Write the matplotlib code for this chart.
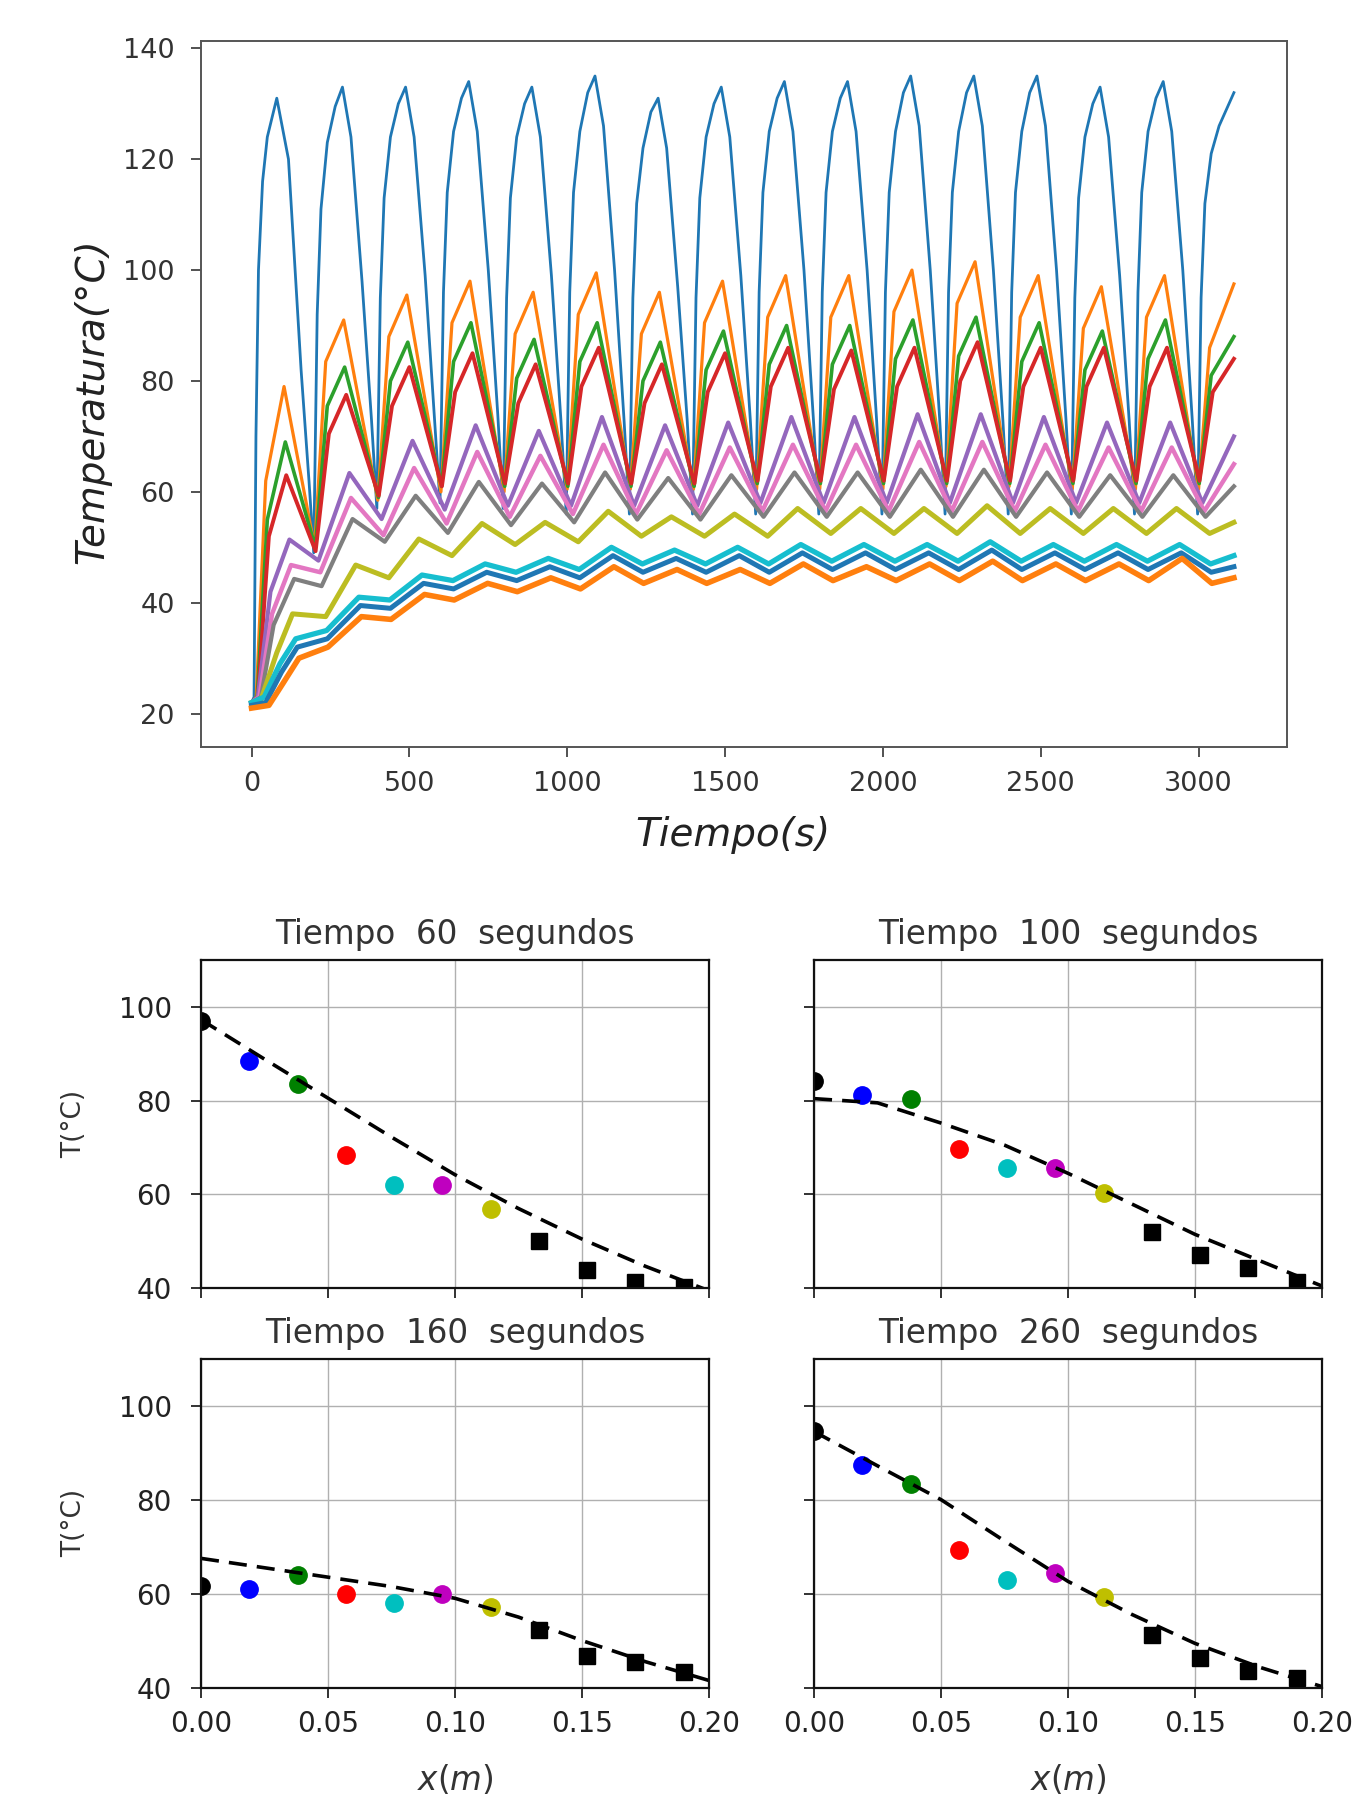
import matplotlib
matplotlib.use("Agg")
import matplotlib.pyplot as plt
import matplotlib.ticker as mticker

# ---------------- Top chart data ----------------
# cycle reference times (s); each series has its own phase lag
cycle_t = [200, 400, 600, 800, 1000, 1200, 1400, 1600, 1800, 2000, 2200, 2400, 2600, 2800, 3000]

# Series 1: blue (heater side)
blue_start_t = [0, 8, 14, 22, 35, 50, 80, 117, 157, 182]
blue_start_T = [22, 23, 70, 100, 116, 124, 131, 120, 82, 62]
blue_lags = [-3, 8, 20, 40, 65, 88, 115, 150, 180]
blue_trough = [49, 57, 58, 57, 56, 56, 56, 56, 56, 56, 56, 56, 56, 56, 56]
blue_r8 = [92, 95, 96, 95, 96, 95, 95, 96, 96, 96, 96, 96, 95, 96, 95]
blue_r20 = [111, 113, 114, 113, 114, 112, 113, 114, 114, 114, 114, 114, 113, 114, 112]
blue_r40 = [123, 124, 125, 124, 125, 122, 124, 125, 125, 125, 125, 125, 124, 125, 121]
blue_r65 = [129.5, 130, 131, 130, 132, 128.5, 130, 131, 131, 132, 132, 132, 130, 131, 126]
blue_peak = [133, 133, 134, 133, 135, 131, 133, 134, 134, 135, 135, 135, 133, 134]
blue_f115 = [124, 124, 125, 124, 126, 122, 124, 125, 125, 126, 126, 126, 124, 125]
blue_f150 = [98, 99, 100, 99, 100, 97, 99, 100, 100, 100, 100, 100, 99, 100]
blue_f180 = [73, 73, 74, 73, 73, 73, 73, 73, 73, 73, 73, 73, 73, 73]
blue_end_t = [3112]
blue_end_T = [132]

# Series 2: orange
orange_start_t = [0, 15, 45, 103]
orange_start_T = [22, 23, 62, 79]
orange_lags = [0, 35, 92]
orange_trough = [50, 58.5, 60, 60, 60.5, 60.5, 60.5, 60.5, 60.5, 60.5, 61, 61, 60.5, 60.5, 60.5]
orange_mid = [83.5, 88, 90.5, 88.5, 92, 88.5, 90.5, 91.5, 91.5, 92.5, 94, 91.5, 89.5, 91.5, 86]
orange_peak = [91, 95.5, 98, 96, 99.5, 96, 98, 99, 99, 100, 101.5, 99, 97, 99]
orange_end_t = [3112]
orange_end_T = [97.5]

# Series 3: green
green_start_t = [0, 18, 50, 107]
green_start_T = [22, 23, 55, 69]
green_lags = [2, 40, 95]
green_trough = [50, 59, 61, 61, 61, 61, 61, 61.5, 61.5, 61.5, 61.5, 61.5, 61.5, 61.5, 61.5]
green_mid = [75.5, 80, 83.5, 80.5, 83.5, 80, 82, 83, 83, 84, 84.5, 83.5, 82, 84, 81]
green_peak = [82.5, 87, 90.5, 87.5, 90.5, 87, 89, 90, 90, 91, 91.5, 90.5, 89, 91]
green_end_t = [3112]
green_end_T = [88]

# Series 4: red
red_start_t = [0, 20, 55, 110]
red_start_T = [22, 23, 52, 63]
red_lags = [3, 45, 100]
red_trough = [49.3, 59.3, 61, 61.5, 61.5, 61.5, 61.5, 62, 62, 62, 62, 62, 62, 62, 62]
red_mid = [70.5, 75.5, 78, 76, 79, 76, 78, 79, 78.5, 79, 80, 79, 79, 79, 78]
red_peak = [77.5, 82.5, 85, 83, 86, 83, 85, 86, 85.5, 86, 87, 86, 86, 86]
red_end_t = [3112]
red_end_T = [84]

# Series 5: purple
purple_start_t = [0, 20, 60, 120]
purple_start_T = [22, 23, 42, 51.4]
purple_lags = [12, 110]
purple_trough = [47.6, 55.1, 56.8, 57.5, 57.5, 57.5, 57.5, 58, 58, 58, 58, 58, 58, 58, 58]
purple_peak = [63.4, 69.2, 72, 71, 73.5, 72, 72.5, 73.5, 73.5, 74, 74, 73.5, 72.5, 72.5]
purple_end_t = [3112]
purple_end_T = [70]

# Series 6: pink
pink_start_t = [0, 25, 65, 125]
pink_start_T = [22, 23, 38, 46.8]
pink_lags = [18, 115]
pink_trough = [45.5, 52.2, 54.3, 55.5, 56, 56, 56, 56.5, 56.5, 56.5, 56.5, 56.5, 56.5, 56.5, 56.5]
pink_peak = [58.9, 64.3, 67.2, 66.5, 68.5, 67.5, 68, 68.5, 68.5, 69, 69, 68.5, 68, 68]
pink_end_t = [3112]
pink_end_T = [65]

# Series 7: gray
gray_start_t = [0, 30, 70, 135]
gray_start_T = [22, 23, 36, 44.3]
gray_lags = [22, 120]
gray_trough = [43, 51, 52.6, 54, 54.5, 55, 55, 55.5, 55.5, 55.5, 55.5, 55.5, 55.5, 55.5, 55.5]
gray_peak = [55.1, 59.3, 61.8, 61.5, 63.5, 62.5, 63, 63.5, 63.5, 64, 64, 63.5, 63, 63]
gray_end_t = [3112]
gray_end_T = [61]

# Series 8: olive
olive_start_t = [0, 30, 80, 130]
olive_start_T = [22, 22.5, 31, 38]
olive_lags = [35, 130]
olive_trough = [37.5, 44.5, 48.5, 50.5, 51, 52, 52, 52, 52.5, 52.5, 52.5, 52.5, 52.5, 52.5, 52.5]
olive_peak = [46.8, 51.5, 54.3, 54.5, 56.5, 55.5, 56, 57, 57, 57, 57.5, 57, 57, 57]
olive_end_t = [3112]
olive_end_T = [54.5]

# Series 9: cyan
cyan_start_t = [0, 40, 90, 140]
cyan_start_T = [22, 23, 29, 33.5]
cyan_lags = [38, 140]
cyan_trough = [35, 40.5, 44, 45.5, 46, 47, 47, 47, 47.5, 47.5, 47.5, 47.5, 47.5, 47.5, 47]
cyan_peak = [41, 45, 47, 48, 50, 49.5, 50, 50.5, 50.5, 50.5, 51, 50.5, 50.5, 50.5]
cyan_end_t = [3112]
cyan_end_T = [48.5]

# Series 10: blue (far side)
blue2_start_t = [0, 45, 95, 145]
blue2_start_T = [21.5, 22, 27.5, 32]
blue2_lags = [40, 145]
blue2_trough = [33.5, 39, 42.5, 44, 44.5, 45.5, 45.5, 45.5, 46, 46, 46, 46, 46, 46, 45.5]
blue2_peak = [39.5, 43.5, 45.5, 46.5, 48.5, 48, 48.5, 49, 49, 49, 49.5, 49, 49, 49]
blue2_end_t = [3112]
blue2_end_T = [46.5]

# Series 11: orange (far side)
orange2_start_t = [0, 55, 100, 150]
orange2_start_T = [21, 21.5, 25.5, 30]
orange2_lags = [42, 148]
orange2_trough = [32, 37, 40.5, 42, 42.5, 43.5, 43.5, 43.5, 44, 44, 44, 44, 44, 44, 43.5]
orange2_peak = [37.5, 41.5, 43.5, 44.5, 46.5, 46, 46, 47, 46.5, 47, 47.5, 47, 47, 48]
orange2_end_t = [3112]
orange2_end_T = [44.5]

# ---------------- Profile sub-plots data ----------------
x_sensor = [0.0, 0.019, 0.038, 0.057, 0.076, 0.095, 0.114, 0.133, 0.152, 0.171, 0.190]
sensor_colors = ['k', 'b', 'g', 'r', 'c', 'm', 'y', 'k', 'k', 'k', 'k']
sensor_marker = ['o', 'o', 'o', 'o', 'o', 'o', 'o', 's', 's', 's', 's']
times = [60, 100, 160, 260]
T_meas = {
    60: [97, 88.5, 83.6, 68.4, 62, 62, 56.9, 50.2, 43.9, 41.4, 40.2],
    100: [84.1, 81.2, 80.4, 69.6, 65.6, 65.6, 60.4, 52.1, 47.1, 44.3, 41.4],
    160: [61.6, 60.9, 63.9, 60, 57.9, 59.9, 57.2, 52.3, 46.8, 45.4, 43.3],
    260: [94.6, 87.4, 83.3, 69.2, 63, 64.3, 59.3, 51.1, 46.4, 43.6, 42.1],
}
x_model = [0.0, 0.025, 0.05, 0.075, 0.1, 0.125, 0.15, 0.175, 0.2]
T_model = {
    60: [97.2, 88.8, 80.5, 72.2, 64.2, 57, 50.5, 44.7, 39.5],
    100: [80.4, 79.5, 75.2, 70.5, 64.5, 58, 51.5, 46, 40.5],
    160: [67.5, 65.5, 63.5, 61.5, 59, 55, 50, 45.5, 41.5],
    260: [94.5, 87.2, 80, 71.2, 62.6, 55.6, 49.4, 44.4, 40.2],
}


def build(start_t, start_T, lags, cols, end_t, end_T):
    t = list(start_t)
    T = list(start_T)
    for k, c in enumerate(cycle_t):
        for lag, vals in zip(lags, cols):
            if k < len(vals):
                t.append(c + lag)
                T.append(vals[k])
    t += list(end_t)
    T += list(end_T)
    return t, T


series = [
    ('tab:blue', 2.0, build(blue_start_t, blue_start_T, blue_lags,
                            [blue_trough, blue_r8, blue_r20, blue_r40, blue_r65,
                             blue_peak, blue_f115, blue_f150, blue_f180],
                            blue_end_t, blue_end_T)),
    ('tab:orange', 2.3, build(orange_start_t, orange_start_T, orange_lags,
                              [orange_trough, orange_mid, orange_peak], orange_end_t, orange_end_T)),
    ('tab:green', 2.6, build(green_start_t, green_start_T, green_lags,
                             [green_trough, green_mid, green_peak], green_end_t, green_end_T)),
    ('tab:red', 2.8, build(red_start_t, red_start_T, red_lags,
                           [red_trough, red_mid, red_peak], red_end_t, red_end_T)),
    ('tab:purple', 3.0, build(purple_start_t, purple_start_T, purple_lags,
                              [purple_trough, purple_peak], purple_end_t, purple_end_T)),
    ('tab:pink', 3.2, build(pink_start_t, pink_start_T, pink_lags,
                            [pink_trough, pink_peak], pink_end_t, pink_end_T)),
    ('tab:gray', 3.0, build(gray_start_t, gray_start_T, gray_lags,
                            [gray_trough, gray_peak], gray_end_t, gray_end_T)),
    ('tab:olive', 3.6, build(olive_start_t, olive_start_T, olive_lags,
                             [olive_trough, olive_peak], olive_end_t, olive_end_T)),
    ('tab:cyan', 3.8, build(cyan_start_t, cyan_start_T, cyan_lags,
                            [cyan_trough, cyan_peak], cyan_end_t, cyan_end_T)),
    ('tab:blue', 3.6, build(blue2_start_t, blue2_start_T, blue2_lags,
                            [blue2_trough, blue2_peak], blue2_end_t, blue2_end_T)),
    ('tab:orange', 4.0, build(orange2_start_t, orange2_start_T, orange2_lags,
                              [orange2_trough, orange2_peak], orange2_end_t, orange2_end_T)),
]

plt.rcParams['font.family'] = ['DejaVu Sans']

fig = plt.figure(figsize=(13.61, 18.02), dpi=100)

# ---------------- Top chart ----------------
ax = fig.add_axes([0.1477, 0.5855, 0.7979, 0.3917])
for color, lw, (t, T) in series:
    ax.plot(t, T, color=color, lw=lw, solid_joinstyle='round')
ax.set_xlim(-160, 3280)
ax.set_ylim(14, 141.3)
ax.set_xticks([0, 500, 1000, 1500, 2000, 2500, 3000])
ax.set_yticks([20, 40, 60, 80, 100, 120, 140])
ax.tick_params(axis='both', labelsize=19.5, length=7, width=1.2, colors='#333333')
ax.tick_params(axis='x', pad=10)
ax.tick_params(axis='y', pad=12)
for sp in ax.spines.values():
    sp.set_color('#555555')
    sp.set_linewidth(1.4)
ax.set_xlabel('Tiempo(s)', fontsize=28, fontstyle='italic', color='#222222')
ax.set_ylabel('Temperatura(°C)', fontsize=28, fontstyle='italic', color='#222222')
ax.xaxis.set_label_coords(0.49, -0.098)
ax.yaxis.set_label_coords(-0.083, 0.49)

# ---------------- Profile sub-plots ----------------
w = 0.3733
h = 0.1825
positions = {
    60: [0.1477, 0.2850, w, h],
    100: [0.5981, 0.2850, w, h],
    160: [0.1477, 0.0635, w, h],
    260: [0.5981, 0.0635, w, h],
}
for tm in times:
    a = fig.add_axes(positions[tm])
    a.grid(True, color='#b0b0b0', lw=1.0)
    a.set_axisbelow(True)
    for xi, Ti, c, mk in zip(x_sensor, T_meas[tm], sensor_colors, sensor_marker):
        a.plot([xi], [Ti], mk, color=c, ms=12.5 if mk == 'o' else 12)
    a.plot(x_model, T_model[tm], 'k--', lw=2.6, dashes=(5, 2.8))
    a.set_xlim(0, 0.2)
    a.set_ylim(40, 110)
    a.set_xticks([0.0, 0.05, 0.10, 0.15, 0.20])
    a.set_yticks([40, 60, 80, 100])
    a.tick_params(axis='both', labelsize=20, length=7, width=1.3, colors='#222222')
    a.tick_params(axis='x', pad=9)
    a.tick_params(axis='y', pad=14)
    for sp in a.spines.values():
        sp.set_color('#111111')
        sp.set_linewidth(1.6)
    a.set_title('Tiempo  %d  segundos' % tm, fontsize=23.5, color='#333333', pad=11)
    if tm in (100, 260):
        a.tick_params(axis='y', labelleft=False)
    else:
        a.set_ylabel('T(°C)', fontsize=19, color='#333333')
        a.yaxis.set_label_coords(-0.224, 0.5)
    if tm in (60, 100):
        a.tick_params(axis='x', labelbottom=False)
    else:
        a.xaxis.set_major_formatter(mticker.FormatStrFormatter('%.2f'))
        a.set_xlabel('$x(m)$', fontsize=23.5, color='#333333')
        a.xaxis.set_label_coords(0.5, -0.228)

fig.savefig('out.png', dpi=100)
